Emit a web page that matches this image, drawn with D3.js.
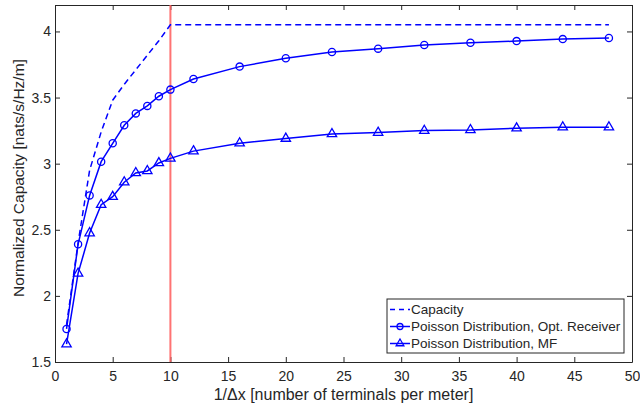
<!DOCTYPE html>
<html>
<head>
<meta charset="utf-8" />
<title>Normalized Capacity</title>
<script src="https://cdn.jsdelivr.net/npm/d3@7"></script>
<style>
    body { margin: 0; background: #fff; }
    text { font-family: "Liberation Sans", Arial, sans-serif; fill: #262626; }
</style>
</head>
<body>
<div id="the-chart"></div>
<script>
    var capX = [1, 2, 3, 4, 5, 6, 7, 8, 9, 10, 48],
        capY = [1.78, 2.40, 2.95, 3.24, 3.48, 3.60, 3.71, 3.82, 3.93, 4.05, 4.05];

    var poissonX = [1, 2, 3, 4, 5, 6, 7, 8, 9, 10, 12, 16, 20, 24, 28, 32, 36, 40, 44, 48],
        optY = [1.75, 2.39, 2.76, 3.015, 3.154, 3.29, 3.38, 3.437, 3.51, 3.56, 3.64, 3.734, 3.797, 3.844, 3.87, 3.897, 3.915, 3.927, 3.942, 3.95],
        mfY = [1.635, 2.17, 2.475, 2.69, 2.75, 2.86, 2.93, 2.945, 3.005, 3.04, 3.095, 3.155, 3.19, 3.225, 3.235, 3.25, 3.255, 3.268, 3.276, 3.276];

    var xTicks = [0, 5, 10, 15, 20, 25, 30, 35, 40, 45, 50],
        yTicks = [1.5, 2, 2.5, 3, 3.5, 4];

    var legendLabels = ["Capacity", "Poisson Distribution, Opt. Receiver", "Poisson Distribution, MF"];

    var svg = d3.select("#the-chart").append("svg")
            .attr("width", 640)
            .attr("height", 412),
        margin = { top: 5, right: 8, bottom: 50, left: 55 },
        width = +svg.attr("width") - margin.left - margin.right,
        height = 362 - margin.top;

    var g = svg.append("g")
        .attr("transform", "translate(" + margin.left + "," + margin.top + ")");

    var x = d3.scaleLinear().domain([0, 50]).range([0, width]),
        y = d3.scaleLinear().domain([1.5, 4.2]).range([height, 0]);

    var axisColor = "#262626";

    // axes, matlab style (box on, ticks inside)
    function styleAxis(sel) {
        sel.select(".domain").attr("stroke", axisColor).attr("stroke-width", 1);
        sel.selectAll(".tick line").attr("stroke", axisColor);
        sel.selectAll(".tick text").style("font-size", "14px").attr("fill", axisColor);
    }

    g.append("g")
        .attr("transform", "translate(0," + height + ")")
        .call(d3.axisBottom(x).tickValues(xTicks).tickSizeInner(-5).tickSizeOuter(0).tickPadding(9))
        .call(styleAxis);

    g.append("g")
        .call(d3.axisTop(x).tickValues(xTicks).tickSizeInner(-5).tickSizeOuter(0).tickFormat(""))
        .call(styleAxis);

    g.append("g")
        .call(d3.axisLeft(y).tickValues(yTicks).tickSizeInner(-5).tickSizeOuter(0).tickPadding(4)
            .tickFormat(function (d) { return String(d); }))
        .call(styleAxis);

    g.append("g")
        .attr("transform", "translate(" + width + ",0)")
        .call(d3.axisRight(y).tickValues(yTicks).tickSizeInner(-5).tickSizeOuter(0).tickFormat(""))
        .call(styleAxis);

    // red marker at 10 terminals per meter
    g.append("line")
        .attr("x1", x(10)).attr("x2", x(10))
        .attr("y1", 0).attr("y2", height)
        .attr("stroke", "#ff5a5a")
        .attr("stroke-opacity", 0.85)
        .attr("stroke-width", 2);

    var line = d3.line()
        .x(function (d) { return x(d[0]); })
        .y(function (d) { return y(d[1]); });

    var capData = d3.zip(capX, capY),
        optData = d3.zip(poissonX, optY),
        mfData = d3.zip(poissonX, mfY);

    g.append("path")
        .datum(capData)
        .attr("d", line)
        .attr("fill", "none")
        .attr("stroke", "#0000ff")
        .attr("stroke-width", 1.5)
        .attr("stroke-dasharray", "6,4");

    g.append("path")
        .datum(optData)
        .attr("d", line)
        .attr("fill", "none")
        .attr("stroke", "#0000ff")
        .attr("stroke-width", 1.5);

    g.append("path")
        .datum(mfData)
        .attr("d", line)
        .attr("fill", "none")
        .attr("stroke", "#0000ff")
        .attr("stroke-width", 1.5);

    g.selectAll("circle.opt")
        .data(optData)
        .enter()
        .append("circle")
        .attr("class", "opt")
        .attr("cx", function (d) { return x(d[0]); })
        .attr("cy", function (d) { return y(d[1]); })
        .attr("r", 3.6)
        .attr("fill", "none")
        .attr("stroke", "#0000ff")
        .attr("stroke-width", 1.3);

    var tri = d3.symbol().type(d3.symbolTriangle).size(38);

    g.selectAll("path.mf")
        .data(mfData)
        .enter()
        .append("path")
        .attr("class", "mf")
        .attr("d", tri)
        .attr("transform", function (d) { return "translate(" + x(d[0]) + "," + y(d[1]) + ")"; })
        .attr("fill", "none")
        .attr("stroke", "#0000ff")
        .attr("stroke-width", 1.3);

    // axis labels
    svg.append("text")
        .attr("x", margin.left + width / 2)
        .attr("y", 400)
        .attr("text-anchor", "middle")
        .style("font-size", "16px")
        .text("1/\u0394x [number of terminals per meter]");

    svg.append("text")
        .attr("transform", "translate(23.5,178) rotate(-90)")
        .attr("text-anchor", "middle")
        .style("font-size", "15.5px")
        .text("Normalized Capacity [nats/s/Hz/m]");

    // legend
    var lg = svg.append("g").attr("transform", "translate(387,299)");
    lg.append("rect")
        .attr("width", 237).attr("height", 54)
        .attr("fill", "#fff")
        .attr("stroke", axisColor)
        .attr("stroke-width", 1);

    legendLabels.forEach(function (label, i) {
        var ly = 10.5 + i * 17;
        var row = lg.append("g").attr("transform", "translate(0," + ly + ")");
        row.append("line")
            .attr("x1", 3).attr("x2", 23)
            .attr("stroke", "#0000ff")
            .attr("stroke-width", 1.5)
            .attr("stroke-dasharray", i === 0 ? "5,4" : null);
        if (i === 1) {
            row.append("circle").attr("cx", 13).attr("r", 3)
                .attr("fill", "none").attr("stroke", "#0000ff").attr("stroke-width", 1.3);
        }
        if (i === 2) {
            row.append("path").attr("d", d3.symbol().type(d3.symbolTriangle).size(26))
                .attr("transform", "translate(13,0)")
                .attr("fill", "none").attr("stroke", "#0000ff").attr("stroke-width", 1.3);
        }
        row.append("text")
            .attr("x", 24)
            .attr("dy", "0.35em")
            .style("font-size", "13.5px")
            .text(label);
    });
</script>
</body>
</html>
